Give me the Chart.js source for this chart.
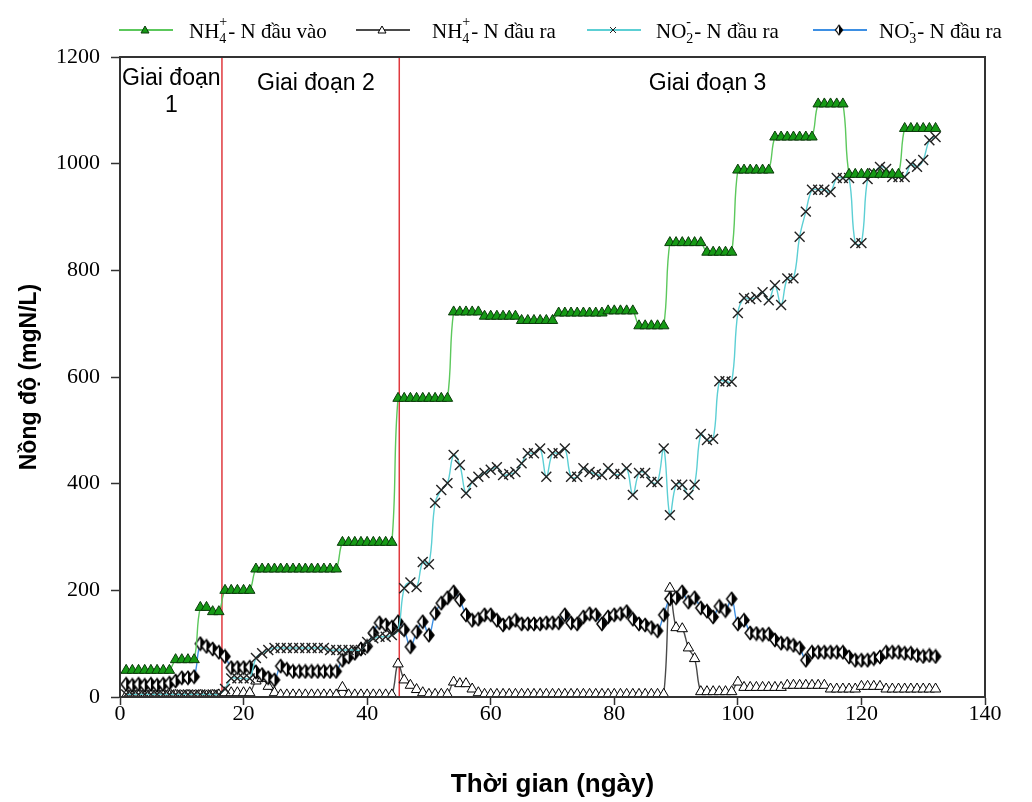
<!DOCTYPE html>
<html>
<head>
<meta charset="utf-8">
<script src="https://cdn.jsdelivr.net/npm/chart.js@4.4.1/dist/chart.umd.min.js"></script>
<style>
  html, body { margin: 0; padding: 0; background: #fff; }
</style>
</head>
<body>
<canvas id="chart" width="1032" height="802"></canvas>
<script>
// days of operation (x categories)
const days = Array.from({ length: 132 }, (_, i) => i + 1);

// NH4+ - N influent (mgN/L)
const nh4In = [
  50, 50, 50, 50, 50, 50, 50, 50, 70, 70, 70, 70, 168, 168, 160, 160,
  200, 200, 200, 200, 200,
  240, 240, 240, 240, 240, 240, 240, 240, 240, 240, 240, 240, 240, 240,
  290, 290, 290, 290, 290, 290, 290, 290, 290,
  560, 560, 560, 560, 560, 560, 560, 560, 560,
  722, 722, 722, 722, 722, 714, 714, 714, 714, 714, 714,
  706, 706, 706, 706, 706, 706, 720, 720, 720, 720, 720, 720, 720, 720,
  724, 724, 724, 724, 724, 696, 696, 696, 696, 696,
  852, 852, 852, 852, 852, 852, 834, 834, 834, 834, 834,
  988, 988, 988, 988, 988, 988, 1050, 1050, 1050, 1050, 1050, 1050, 1050,
  1112, 1112, 1112, 1112, 1112,
  980, 980, 980, 980, 980, 980, 980, 980, 980,
  1066, 1066, 1066, 1066, 1066, 1066
];

// NH4+ - N effluent
const nh4Out = [
  3, 2, 3, 2, 3, 2, 3, 2, 3, 2, 3, 2, 3, 2, 3, 4,
  8, 8, 8, 8, 8,
  30, 35, 20, 8,
  4, 4, 4, 4, 4, 4, 4, 4, 4, 4,
  18, 4, 4, 4, 4, 4, 4, 4, 4,
  62, 32, 22, 14, 8, 5, 5, 5, 5,
  28, 25, 25, 15, 8,
  5, 5, 5, 5, 5, 5, 5, 5, 5, 5, 5, 5, 5, 5, 5,
  5, 5, 5, 5, 5, 5, 5, 5, 5, 5, 5, 5, 5, 5, 5,
  204, 130, 128, 92, 72,
  10, 10, 10, 10, 10, 10, 28,
  18, 18, 18, 18, 18, 18, 18,
  22, 22, 22, 22, 22, 22, 22,
  15, 15, 15, 15, 15, 20, 20, 20, 20,
  15, 15, 15, 15, 15, 15, 15, 15, 15
];

// NO2- - N effluent
const no2Out = [
  5, 5, 5, 5, 5, 5, 5, 5, 5, 5, 5, 5, 5, 5, 5, 5,
  15, 35, 35, 35, 35,
  73, 82, 88, 92, 92, 92, 92, 92, 92, 92, 92, 92, 88, 88, 88, 88, 88, 88,
  103, 110, 113, 113, 116, 125,
  204, 215, 206, 253, 249, 364, 388, 401, 454, 435, 382, 403, 413, 420, 426, 431,
  416, 418, 422, 438, 457, 457, 466, 413, 457, 457, 466, 413, 413, 429, 422, 418,
  416, 429, 418, 418, 429, 379, 420, 420, 403, 403, 466, 341, 398, 398, 379, 398,
  493, 482, 484, 592, 592, 591,
  720, 748, 746, 750, 759, 744, 772, 735, 785, 785, 863, 910, 951, 951, 951, 947,
  973, 973, 973, 851, 851, 971, 982, 994, 990, 975, 975, 975, 999, 994, 1007, 1044, 1050
];

// NO3- - N effluent
const no3Out = [
  24, 22, 24, 22, 24, 22, 24, 26, 30, 36, 36, 38,
  100, 95, 90, 84, 76, 55, 55, 55, 56,
  47, 42, 36, 32, 58, 52, 48, 48, 48, 48, 48, 48, 48, 48,
  69, 75, 82, 90, 95, 120, 139, 135, 131,
  141, 126, 94, 122, 141, 116, 157, 176, 186, 197,
  182, 154, 144, 146, 154, 154, 144, 135, 139, 144, 137, 137, 137, 137, 139, 139, 139,
  154, 139, 137, 150, 156, 154, 137, 150, 154, 156, 160, 146, 137, 135, 130, 124, 154,
  184, 186, 197, 178, 186, 167, 161, 150, 170, 162, 184, 137, 144, 120, 119, 117, 118,
  107, 101, 100, 97, 92, 69,
  84, 84, 84, 84, 84, 84, 75, 69, 69, 69, 72, 75, 84, 84, 84, 82, 82, 78, 76, 78, 76
];

const xTicks = [0, 20, 40, 60, 80, 100, 120, 140];
const yTicks = [0, 200, 400, 600, 800, 1000, 1200];

// phase boundaries (day) and labels
const phaseBounds = [16.5, 45.2];
const phaseLabels = [
  { lines: ["Giai đoạn", "1"], day: 8.3, value: 1160 },
  { lines: ["Giai đoạn 2"], day: 31.7, value: 1150 },
  { lines: ["Giai đoạn 3"], day: 95.1, value: 1150 }
];

// half white / half black diamond marker
function makeDiamond() {
  const c = document.createElement("canvas");
  c.width = 14; c.height = 16;
  const g = c.getContext("2d");
  const cx = 7, cy = 8, w = 5, h = 6.5;
  g.beginPath(); g.moveTo(cx, cy - h); g.lineTo(cx - w, cy); g.lineTo(cx, cy + h); g.closePath();
  g.fillStyle = "#fff"; g.fill();
  g.beginPath(); g.moveTo(cx, cy - h); g.lineTo(cx + w, cy); g.lineTo(cx, cy + h); g.closePath();
  g.fillStyle = "#000"; g.fill();
  g.beginPath(); g.moveTo(cx, cy - h); g.lineTo(cx + w, cy); g.lineTo(cx, cy + h); g.lineTo(cx - w, cy); g.closePath();
  g.strokeStyle = "#000"; g.lineWidth = 1.5; g.stroke();
  return c;
}
const diamond = makeDiamond();

const toPoints = (vals) => vals.map((v, i) => ({ x: days[i], y: v }));

const series = [
  {
    label: "NH4+ in", parts: [["NH", 0], ["4", "sub", "+"], ["- N đầu vào", 0]],
    data: toPoints(nh4In), borderColor: "#5cc85c", pointStyle: "triangle", pointRadius: 6,
    pointBackgroundColor: "#169a16", pointBorderColor: "#0b3b0b", pointBorderWidth: 1, order: 1,
    legendX: 119, textX: 189
  },
  {
    label: "NH4+ out", parts: [["NH", 0], ["4", "sub", "+"], ["- N đầu ra", 0]],
    data: toPoints(nh4Out), borderColor: "#4a4a4a", pointStyle: "triangle", pointRadius: 6,
    pointBackgroundColor: "#fff", pointBorderColor: "#000", pointBorderWidth: 1, order: 4,
    legendX: 356, textX: 432
  },
  {
    label: "NO2- out", parts: [["NO", 0], ["2", "sub", "-"], ["- N đầu ra", 0]],
    data: toPoints(no2Out), borderColor: "#5ccfd4", pointStyle: "crossRot", pointRadius: 7,
    pointBackgroundColor: "#222", pointBorderColor: "#222", pointBorderWidth: 1.4, order: 2,
    legendX: 587, textX: 656
  },
  {
    label: "NO3- out", parts: [["NO", 0], ["3", "sub", "-"], ["- N đầu ra", 0]],
    data: toPoints(no3Out), borderColor: "#3d8fe3", pointStyle: diamond, pointRadius: 6,
    pointBackgroundColor: "#000", pointBorderColor: "#000", pointBorderWidth: 1, order: 3,
    legendX: 813, textX: 879
  }
];

// draws frame, red phase lines, phase labels and the legend
const decor = {
  id: "decor",
  beforeDatasetsDraw(chart) {
    const { ctx, chartArea: a, scales } = chart;
    ctx.save();
    ctx.strokeStyle = "#e0393e";
    ctx.lineWidth = 1.5;
    phaseBounds.forEach((d) => {
      const x = scales.x.getPixelForValue(d);
      ctx.beginPath(); ctx.moveTo(x, a.top); ctx.lineTo(x, a.bottom); ctx.stroke();
    });
    ctx.restore();
  },
  afterDraw(chart) {
    const { ctx, chartArea: a, scales } = chart;
    ctx.save();
    ctx.strokeStyle = "#333";
    ctx.lineWidth = 2;
    ctx.strokeRect(a.left, a.top, a.right - a.left, a.bottom - a.top);

    ctx.fillStyle = "#000";
    ctx.font = "23px 'Liberation Sans', Arial, sans-serif";
    ctx.textAlign = "center";
    ctx.textBaseline = "middle";
    phaseLabels.forEach((p) => {
      const x = scales.x.getPixelForValue(p.day);
      const y = scales.y.getPixelForValue(p.value);
      p.lines.forEach((t, k) => ctx.fillText(t, x, y + k * 27));
    });

    // legend
    const ly = 30;
    series.forEach((s) => {
      ctx.strokeStyle = s.borderColor;
      ctx.lineWidth = 2;
      ctx.beginPath(); ctx.moveTo(s.legendX, ly); ctx.lineTo(s.legendX + 54, ly); ctx.stroke();
      const mx = s.legendX + 26;
      if (s.pointStyle === diamond) {
        ctx.drawImage(diamond, mx - 5, ly - 6, 10, 12);
      } else {
        ctx.fillStyle = s.pointBackgroundColor;
        ctx.strokeStyle = s.pointBorderColor;
        ctx.lineWidth = 1;
        ctx.beginPath();
        if (s.pointStyle === "triangle") {
          ctx.moveTo(mx, ly - 4); ctx.lineTo(mx + 4, ly + 3); ctx.lineTo(mx - 4, ly + 3); ctx.closePath();
          ctx.fill(); ctx.stroke();
        } else {
          ctx.moveTo(mx - 3, ly - 3); ctx.lineTo(mx + 3, ly + 3);
          ctx.moveTo(mx + 3, ly - 3); ctx.lineTo(mx - 3, ly + 3);
          ctx.stroke();
        }
      }
      let x = s.textX;
      ctx.fillStyle = "#000";
      ctx.textAlign = "left";
      ctx.textBaseline = "alphabetic";
      s.parts.forEach((p) => {
        if (p[1] === "sub") {
          ctx.font = "14px 'Liberation Serif', 'Times New Roman', serif";
          const w1 = ctx.measureText(p[0]).width;
          const w2 = ctx.measureText(p[2]).width;
          ctx.fillText(p[0], x, ly + 13);
          ctx.fillText(p[2], x, ly - 4);
          x += Math.max(w1, w2) + 1;
        } else {
          ctx.font = "21px 'Liberation Serif', 'Times New Roman', serif";
          ctx.fillText(p[0], x, ly + 8);
          x += ctx.measureText(p[0]).width;
        }
      });
    });
    ctx.restore();
  }
};

const tickFont = { family: "'Liberation Serif', 'Times New Roman', serif", size: 22 };
const titleFont = { family: "'Liberation Sans', Arial, sans-serif", weight: "bold" };

new Chart(document.getElementById("chart"), {
  type: "line",
  data: {
    datasets: series.map((s) => ({
      label: s.label,
      data: s.data,
      borderColor: s.borderColor,
      borderWidth: 1.4,
      tension: 0.4,
      pointStyle: s.pointStyle,
      pointRadius: s.pointRadius,
      pointBackgroundColor: s.pointBackgroundColor,
      pointBorderColor: s.pointBorderColor,
      pointBorderWidth: s.pointBorderWidth,
      order: s.order,
      fill: false
    }))
  },
  options: {
    responsive: false,
    animation: false,
    layout: { padding: { left: 0, right: 47, top: 57, bottom: 0 } },
    plugins: { legend: { display: false }, tooltip: { enabled: false } },
    scales: {
      x: {
        type: "linear",
        min: 0,
        max: 140,
        afterBuildTicks: (s) => { s.ticks = xTicks.map((v) => ({ value: v })); },
        afterFit: (s) => { s.height = 105; },
        ticks: { font: tickFont, color: "#000", padding: -4, maxRotation: 0, callback: (v) => String(v) },
        grid: { drawOnChartArea: false, tickLength: 8, color: "#333", tickWidth: 1.5 },
        border: { color: "#333", width: 2 },
        title: {
          display: true, text: "Thời gian (ngày)", color: "#000",
          font: { ...titleFont, size: 26 }, padding: { top: 0, bottom: 2 }
        }
      },
      y: {
        min: 0,
        max: 1200,
        afterBuildTicks: (s) => { s.ticks = yTicks.map((v) => ({ value: v })); },
        afterFit: (s) => { s.width = 120; },
        ticks: { font: tickFont, color: "#000", padding: 11, callback: (v) => String(v) },
        grid: { drawOnChartArea: false, tickLength: 9, color: "#333", tickWidth: 1.5 },
        border: { color: "#333", width: 2 },
        title: {
          display: true, text: "Nồng độ (mgN/L)", color: "#000",
          font: { ...titleFont, size: 23 }, padding: { top: 16, bottom: 0 }
        }
      }
    }
  },
  plugins: [decor]
});
</script>
</body>
</html>
